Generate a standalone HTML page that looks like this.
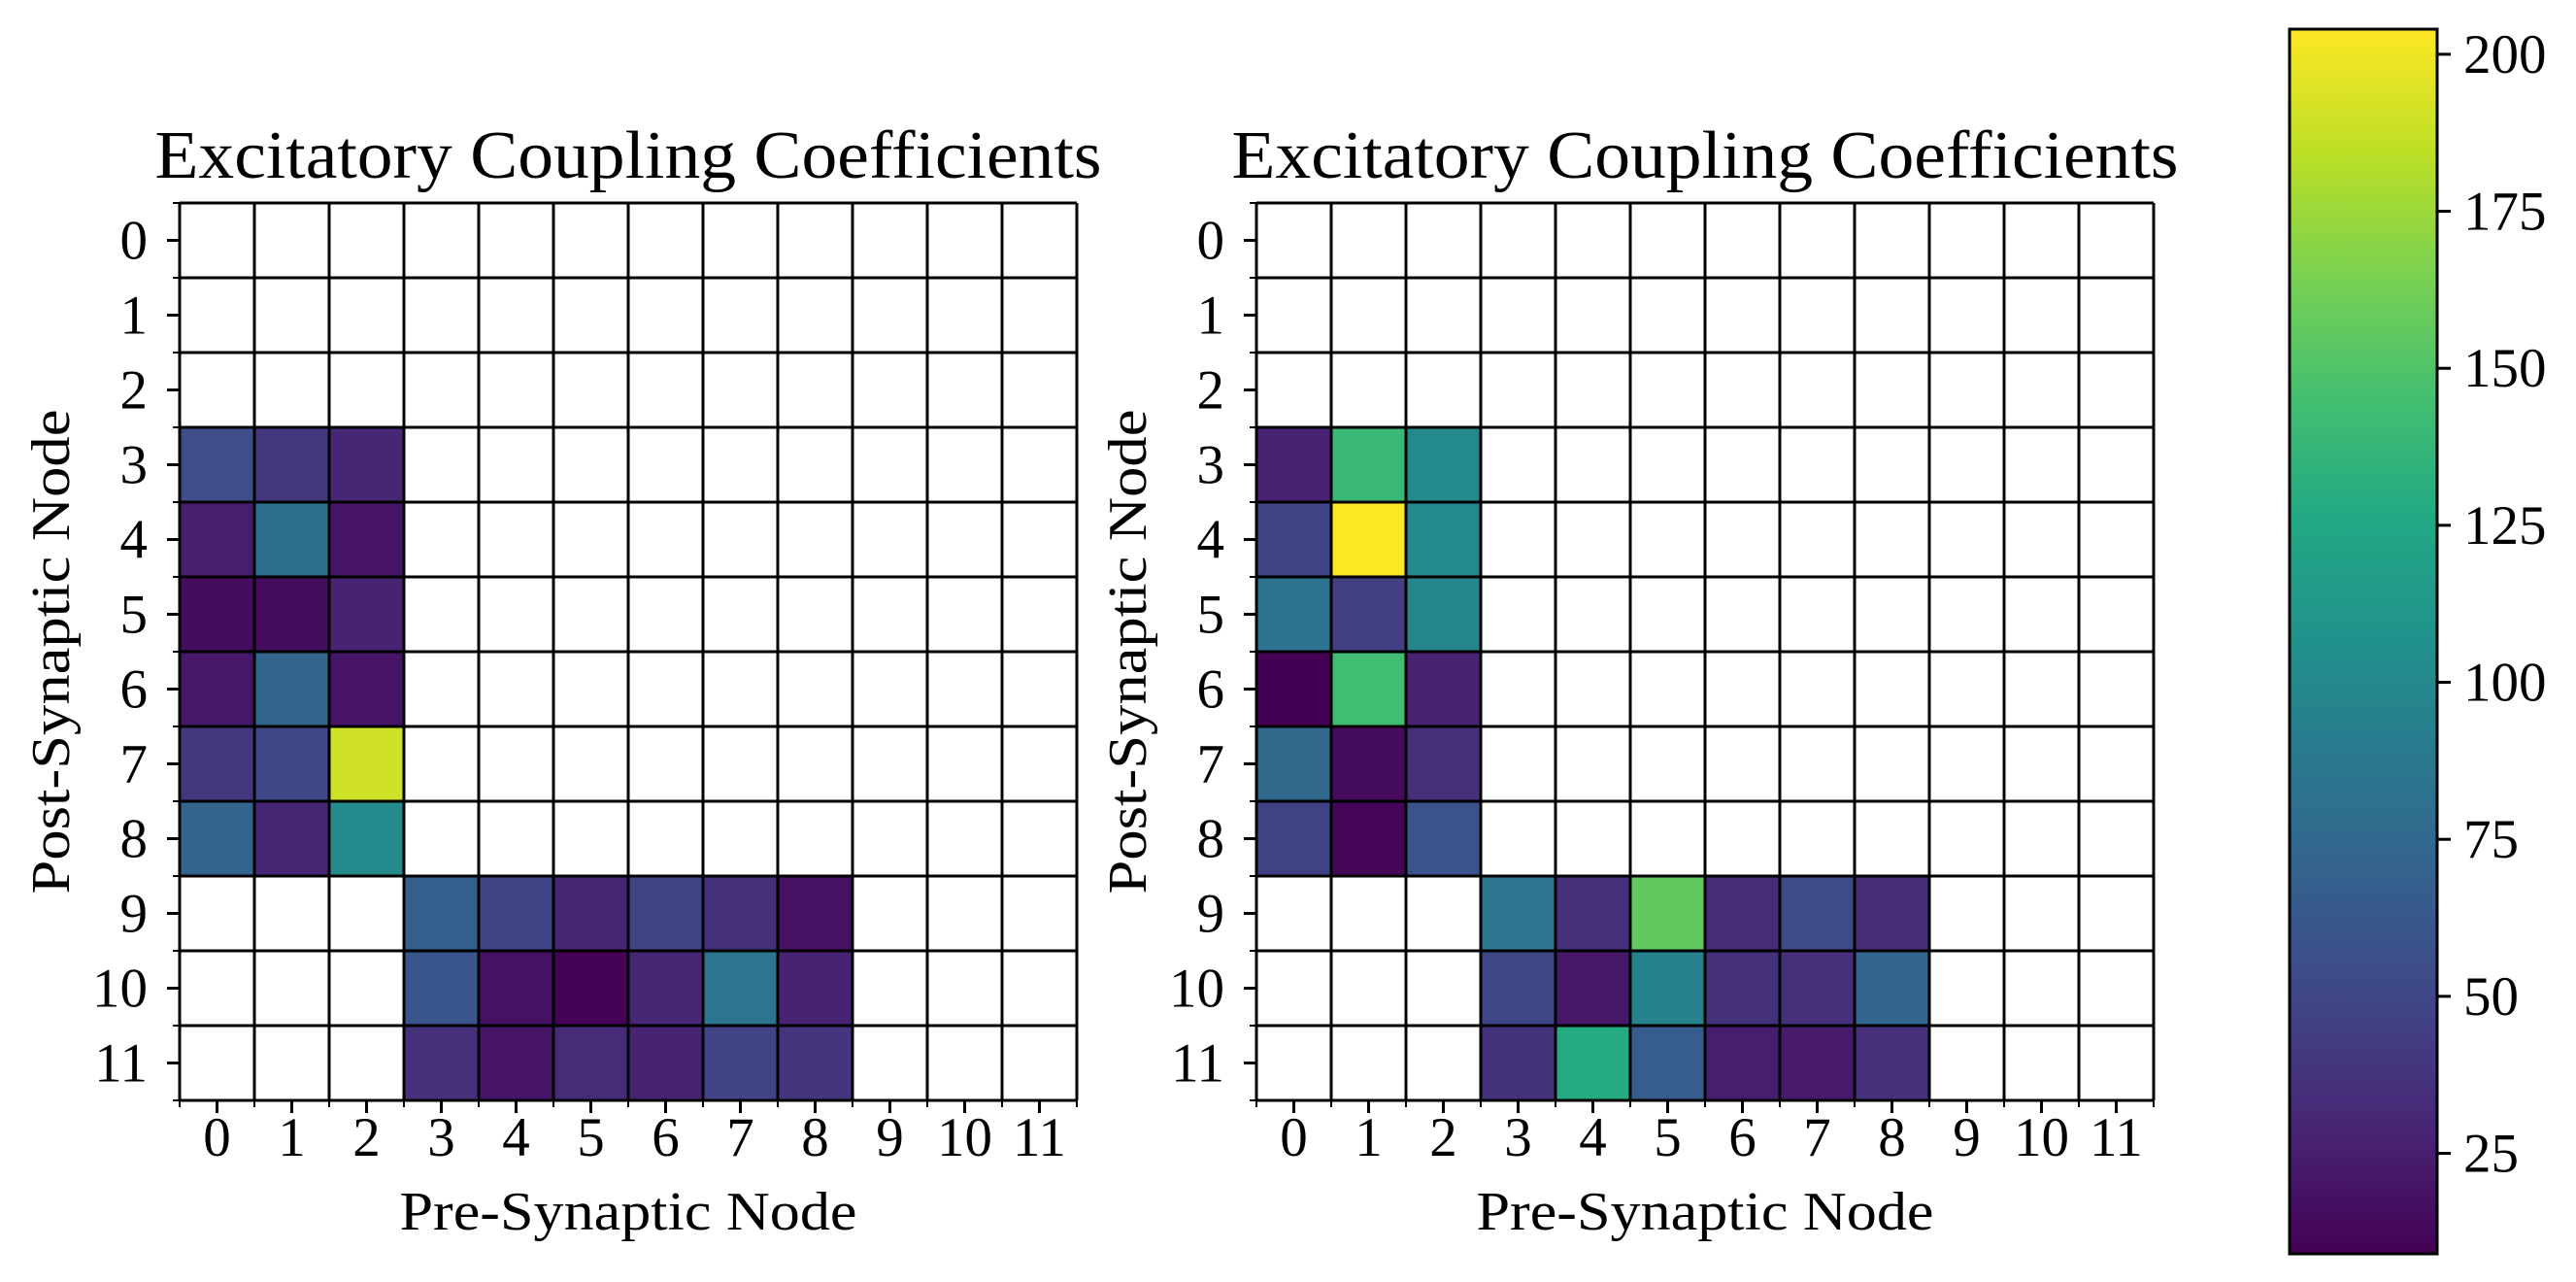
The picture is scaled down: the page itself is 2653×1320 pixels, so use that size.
<!DOCTYPE html>
<html><head><meta charset="utf-8"><style>
html,body{margin:0;padding:0;background:#fff;}
svg{display:block;}
text{font-family:"Liberation Serif",serif;fill:#000;}
</style></head><body>
<svg id="fig" width="2653" height="1320" viewBox="0 0 2653 1320" xmlns="http://www.w3.org/2000/svg"></svg>
<script>
const nodes = [0,1,2,3,4,5,6,7,8,9,10,11];
const cbTicks = [25,50,75,100,125,150,175,200];
const vmin = 9, vmax = 204;
// null = blank (white) cell
const leftValues = [
 [null,null,null,null,null,null,null,null,null,null,null,null],
 [null,null,null,null,null,null,null,null,null,null,null,null],
 [null,null,null,null,null,null,null,null,null,null,null,null],
 [55,40,30,null,null,null,null,null,null,null,null,null],
 [25,80,20,null,null,null,null,null,null,null,null,null],
 [15,15,28,null,null,null,null,null,null,null,null,null],
 [22,72,20,null,null,null,null,null,null,null,null,null],
 [40,50,190,null,null,null,null,null,null,null,null,null],
 [72,30,100,null,null,null,null,null,null,null,null,null],
 [null,null,null,68,48,30,48,36,18,null,null,null],
 [null,null,null,60,18,10,30,85,28,null,null,null],
 [null,null,null,35,20,32,28,48,38,null,null,null]
];
const rightValues = [
 [null,null,null,null,null,null,null,null,null,null,null,null],
 [null,null,null,null,null,null,null,null,null,null,null,null],
 [null,null,null,null,null,null,null,null,null,null,null,null],
 [28,140,100,null,null,null,null,null,null,null,null,null],
 [48,204,100,null,null,null,null,null,null,null,null,null],
 [82,45,98,null,null,null,null,null,null,null,null,null],
 [9,143,28,null,null,null,null,null,null,null,null,null],
 [75,15,35,null,null,null,null,null,null,null,null,null],
 [47,12,58,null,null,null,null,null,null,null,null,null],
 [null,null,null,85,35,156,32,52,33,null,null,null],
 [null,null,null,50,22,95,36,35,72,null,null,null],
 [null,null,null,37,128,66,25,23,35,null,null,null]
];
const viridis = ["#440154","#482475","#414487","#355f8d","#2a788e","#21918c","#22a884","#44bf70","#7ad151","#bddf26","#fde725"];
function hex(h){return [1,3,5].map(i=>parseInt(h.substr(i,2),16));}
function cmap(v){
  let t=Math.max(0,Math.min(1,(v-vmin)/(vmax-vmin)))*10;
  let i=Math.min(9,Math.floor(t)), f=t-i;
  let a=hex(viridis[i]), b=hex(viridis[i+1]);
  return "rgb("+a.map((x,k)=>Math.round(x+(b[k]-x)*f)).join(",")+")";
}
const NS="http://www.w3.org/2000/svg";
const svg=document.getElementById('fig');
function mk(tag,attrs,parent){const e=document.createElementNS(NS,tag);for(const k in attrs)e.setAttribute(k,attrs[k]);(parent||svg).appendChild(e);return e;}

function panel(x0,values,key){
  const y0=209, cell=77.0, n=nodes.length, W=cell*n;
  const g=mk('g',{});
  
  
  const sx=i=>x0+i*cell, sy=j=>y0+j*cell;
  for(let r=0;r<n;r++)for(let c=0;c<n;c++){
    const v=values[r][c];
    const rc=mk('rect',{x:sx(c),y:sy(r),width:cell,height:cell,fill:v==null?'#fff':cmap(v)},g);
    
    
  }
  for(let k=0;k<=n;k++){
    mk('line',{x1:sx(k),y1:y0,x2:sx(k),y2:y0+W,stroke:'#000','stroke-width':3},g);
    mk('line',{x1:x0,y1:sy(k),x2:x0+W,y2:sy(k),stroke:'#000','stroke-width':3},g);
    mk('line',{x1:sx(k),y1:y0+W,x2:sx(k),y2:y0+W+7,stroke:'#000','stroke-width':2},g);
    mk('line',{x1:x0,y1:sy(k),x2:x0-7,y2:sy(k),stroke:'#000','stroke-width':2},g);
  }
  nodes.forEach((nd,i)=>{
    const cx=sx(i+0.5), cy=sy(i+0.5);
    mk('line',{x1:cx,y1:y0+W,x2:cx,y2:y0+W+13,stroke:'#000','stroke-width':3},g);
    mk('line',{x1:x0,y1:cy,x2:x0-13,y2:cy,stroke:'#000','stroke-width':3},g);
    const tx=mk('text',{x:cx,y:y0+W+57,'font-size':57,'text-anchor':'middle'},g);
    tx.textContent=nd;
    
    
    const ty=mk('text',{x:x0-33,y:cy+19,'font-size':57,'text-anchor':'end'},g);
    ty.textContent=nd;
    
    
  });
  const t=mk('text',{x:x0+W/2,y:183,'font-size':70,'text-anchor':'middle',textLength:975,lengthAdjust:'spacingAndGlyphs'},g);
  t.textContent='Excitatory Coupling Coefficients';
  
  
  const xl=mk('text',{x:x0+W/2,y:1266,'font-size':56,'text-anchor':'middle',textLength:471,lengthAdjust:'spacingAndGlyphs'},g);
  xl.textContent='Pre-Synaptic Node';
  
  
  const yl=mk('text',{x:0,y:0,'font-size':56,'text-anchor':'middle',textLength:499,lengthAdjust:'spacingAndGlyphs',transform:'translate('+(x0-114)+','+(y0+W/2)+') rotate(-90)'},g);
  yl.textContent='Post-Synaptic Node';
  
  
}
panel(185,leftValues,'left');
panel(1294,rightValues,'right');

// colorbar
const cbx=2358, cbw=152, cbTop=30, cbBot=1291;
const cy=v=>cbBot-(v-vmin)/(vmax-vmin)*(cbBot-cbTop);
const defs=mk('defs',{});
const grad=mk('linearGradient',{id:'vir',x1:0,y1:1,x2:0,y2:0},defs);
viridis.forEach((c,i)=>mk('stop',{offset:(i*10)+'%','stop-color':c},grad));
const cb=mk('g',{});


mk('rect',{x:cbx,y:cbTop,width:cbw,height:cbBot-cbTop,fill:'url(#vir)',stroke:'#000','stroke-width':3},cb);
cbTicks.forEach(v=>{
  mk('line',{x1:cbx+cbw,y1:cy(v),x2:cbx+cbw+14,y2:cy(v),stroke:'#000','stroke-width':3},cb);
  const t=mk('text',{x:2537,y:cy(v)+19,'font-size':57},cb);
  t.textContent=v;
  
  
});
</script>
</body></html>
